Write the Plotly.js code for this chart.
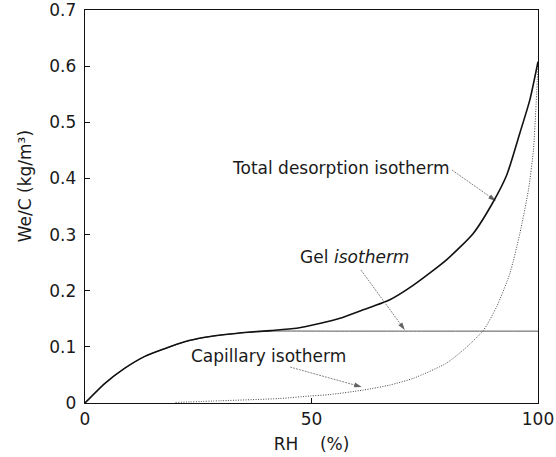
<!DOCTYPE html>
<html>
<head>
<meta charset="utf-8">
<script src="https://cdn.plot.ly/plotly-3.0.1.min.js"></script>
<style>html,body{margin:0;padding:0;background:#fff;}#chart{width:556px;height:457px;}</style>
</head>
<body>
<div id="chart"></div>
<script>
// Total desorption isotherm
const totalRH = [0, 4.4, 8.8, 13.2, 17.7, 22, 26.5, 31, 36, 41, 46.7, 52, 56.3, 61.4, 67.3, 72.5, 79.8, 85.7, 90.1, 93.1, 96, 98.2, 100];
const totalWe = [0, 0.035, 0.062, 0.083, 0.097, 0.109, 0.117, 0.122, 0.126, 0.129, 0.133, 0.142, 0.151, 0.166, 0.184, 0.210, 0.255, 0.302, 0.358, 0.406, 0.481, 0.540, 0.608];
// Gel isotherm
const gelRH = [0, 4.4, 8.8, 13.2, 17.7, 22, 26.5, 31, 36, 41, 55, 70, 85, 100];
const gelWe = [0, 0.035, 0.062, 0.083, 0.097, 0.109, 0.117, 0.122, 0.126, 0.128, 0.128, 0.128, 0.128, 0.128];
// Capillary isotherm
const capRH = [20, 30, 43, 49.7, 54, 61.4, 67.3, 72.5, 79.8, 84.3, 88, 90.9, 93.8, 96, 97.9, 99, 99.5, 100];
const capWe = [0.001, 0.004, 0.008, 0.0125, 0.015, 0.023, 0.032, 0.044, 0.071, 0.100, 0.130, 0.172, 0.231, 0.302, 0.380, 0.451, 0.520, 0.600];

// Tick labels
const xTicks = [0, 50, 100];
const xTickText = ['0', '50', '100'];
const yTicks = [0, 0.1, 0.2, 0.3, 0.4, 0.5, 0.6, 0.7];
const yTickText = ['0', '0.1', '0.2', '0.3', '0.4', '0.5', '0.6', '0.7'];

// Curve label pieces: text, position, anchor, style
const labelText = ['Total desorption isotherm', 'Gel', 'isotherm', 'Capillary isotherm'];
const labelX = [56.5, 54.1, 54.6, 40.6];
const labelY = [0.4186, 0.260, 0.260, 0.0837];
const labelAnchor = ['center', 'right', 'left', 'center'];
const labelStyle = ['normal', 'normal', 'italic', 'normal'];
// Leader arrows (tail -> head)
const arrowTailX = [81.0, 60.9, 45.3];
const arrowTailY = [0.415, 0.237, 0.064];
const arrowHeadX = [90.7, 70.6, 61.1];
const arrowHeadY = [0.360, 0.130, 0.0285];

const FONT = 'DejaVu Sans, Arial, sans-serif';
const TXT = '#1a1a1a';

const traces = [
  {x: gelRH, y: gelWe, mode: 'lines', line: {color: '#555', width: 1, shape: 'spline', smoothing: 0.6}, hoverinfo: 'skip'},
  {x: capRH, y: capWe, mode: 'lines', line: {color: '#444', width: 1, dash: '1px,1.5px', shape: 'spline', smoothing: 0.6}, hoverinfo: 'skip'},
  {x: totalRH, y: totalWe, mode: 'lines', line: {color: '#111', width: 1.6, shape: 'spline', smoothing: 0.6}, hoverinfo: 'skip'}
];
for (let i = 0; i < arrowTailX.length; i++) {
  traces.push({
    x: [arrowTailX[i], arrowHeadX[i]], y: [arrowTailY[i], arrowHeadY[i]],
    mode: 'lines+markers', hoverinfo: 'skip',
    line: {color: '#666', width: 0.8, dash: '2px,1px'},
    marker: {symbol: 'arrow', angleref: 'previous', size: [0, 8], color: '#222', line: {width: 0}}
  });
}

const annotations = [];
for (let i = 0; i < labelText.length; i++) {
  annotations.push({
    x: labelX[i], y: labelY[i], xref: 'x', yref: 'y', text: labelText[i], showarrow: false,
    font: {family: FONT, size: 17, color: TXT, style: labelStyle[i]}, xanchor: labelAnchor[i], yanchor: 'middle'
  });
}
annotations.push({
  xref: 'paper', yref: 'paper', x: -0.132, y: 0.552, text: 'We/C (kg/m\u00b3)', textangle: -90,
  showarrow: false, xanchor: 'center', yanchor: 'middle', font: {family: FONT, size: 17, color: TXT}
});

const layout = {
  width: 556, height: 457,
  margin: {l: 85, r: 18, t: 10, b: 54},
  paper_bgcolor: '#fff', plot_bgcolor: '#fff',
  showlegend: false,
  font: {family: FONT, size: 17, color: TXT},
  xaxis: {
    range: [0, 100], tickvals: xTicks, ticktext: xTickText,
    ticks: 'inside', ticklen: 5, tickwidth: 1, tickcolor: '#111',
    showline: true, linecolor: '#111', linewidth: 1.3, mirror: true,
    showgrid: false, zeroline: false, ticklabeloverflow: 'allow',
    tickfont: {family: FONT, size: 17, color: TXT},
    title: {text: 'RH\u00a0\u00a0\u00a0\u00a0(%)', font: {family: FONT, size: 17, color: TXT}, standoff: 10}
  },
  yaxis: {
    range: [0, 0.7], tickvals: yTicks, ticktext: yTickText,
    ticks: 'inside', ticklen: 5, tickwidth: 1, tickcolor: '#111',
    showline: true, linecolor: '#111', linewidth: 1.3, mirror: true,
    showgrid: false, zeroline: false, ticklabelstandoff: 4, ticklabeloverflow: 'allow',
    tickfont: {family: FONT, size: 17, color: TXT}
  },
  annotations: annotations
};

Plotly.newPlot('chart', traces, layout, {staticPlot: true, displayModeBar: false}).then(function (gd) {
  gd.querySelectorAll('text').forEach(function (t) {
    if (!t.textContent || !t.textContent.trim()) t.parentNode.removeChild(t);
  });
});
</script>
</body>
</html>
